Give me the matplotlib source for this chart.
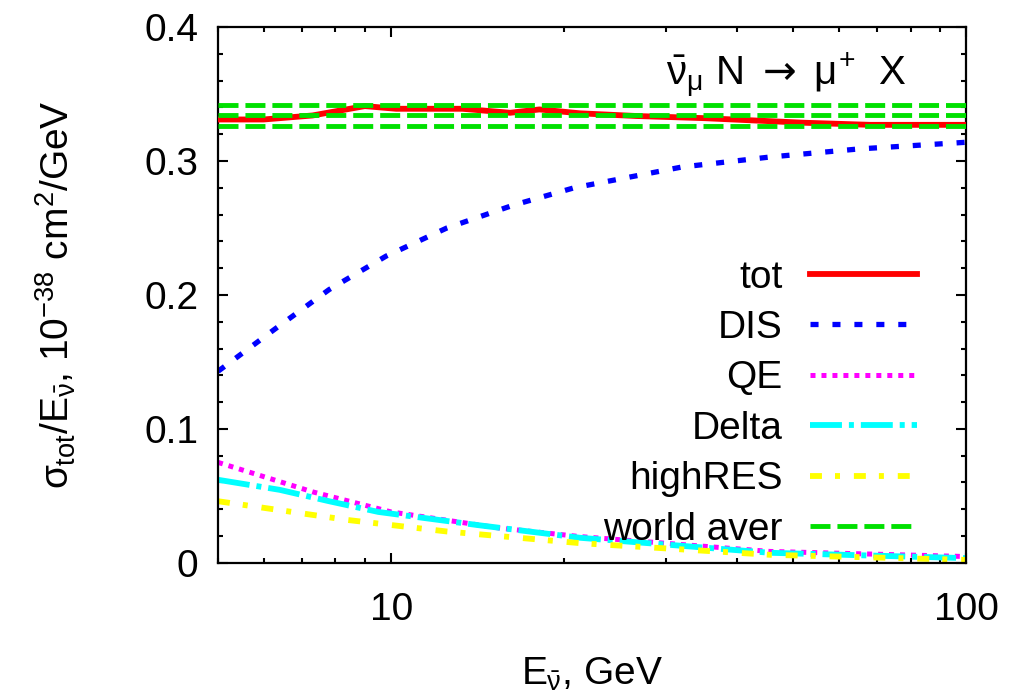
import matplotlib
matplotlib.use("Agg")
import matplotlib.pyplot as plt
from matplotlib.ticker import MultipleLocator, NullFormatter, FixedLocator

plt.rcParams['font.family'] = ['Liberation Sans', 'DejaVu Sans']
plt.rcParams['mathtext.fontset'] = 'custom'
plt.rcParams['mathtext.rm'] = 'Liberation Sans'
plt.rcParams['mathtext.it'] = 'Liberation Sans'
plt.rcParams['mathtext.bf'] = 'Liberation Sans:bold'
plt.rcParams['mathtext.sf'] = 'DejaVu Sans'
plt.rcParams['lines.scale_dashes'] = False

# values (E in GeV, sigma/E in 1e-38 cm^2/GeV)
tot_E = [5, 6, 7.3, 9, 10.2, 13.3, 16.1, 18.1, 21.3, 26.7, 35, 52, 68, 100]
tot_v = [0.331, 0.331, 0.334, 0.341, 0.339, 0.339, 0.336, 0.3385, 0.3356,
         0.3336, 0.332, 0.3286, 0.327, 0.327]

dis_E = [5, 6.3, 7.8, 9.8, 12.5, 16.3, 20.8, 32, 45.6, 65, 100]
dis_v = [0.143, 0.175, 0.204, 0.229, 0.250, 0.267, 0.280, 0.2955, 0.303, 0.309, 0.314]

qe_E = [5, 7.3, 10, 15.4, 21.3, 45.6, 100]
qe_v = [0.075, 0.053, 0.038, 0.026, 0.0196, 0.0085, 0.0047]

delta_E = [5, 6.4, 7.8, 9.5, 14.25, 21.3, 45.6, 100]
delta_v = [0.062, 0.0545, 0.046, 0.038, 0.028, 0.0187, 0.0075, 0.0035]

hres_E = [5, 8.4, 12.5, 21.3, 45.6, 100]
hres_v = [0.046, 0.032, 0.0234, 0.0147, 0.006, 0.0022]

world_aver = 0.334
world_err = 0.008
E_range = [5, 100]

FS = 28

fig = plt.figure(figsize=(10.14, 6.94), dpi=100)
ax = fig.add_axes([0.215, 0.189, 0.738, 0.772])

ax.plot(tot_E, tot_v, color='#ff0000', lw=4.2, label='tot', zorder=4)
ax.plot(dis_E, dis_v, color='#0000ff', lw=3.8, dashes=(5.8, 10), label='DIS')
ax.plot(qe_E, qe_v, color='#ff00ff', lw=3.6, dashes=(3.6, 4.3), label='QE')
ax.plot(delta_E, delta_v, color='#00ffff', lw=4.2, dashes=(23, 5, 3.6, 5), label='Delta')
ax.plot(hres_E, hres_v, color='#ffff00', lw=4.2, dashes=(8.6, 9.4, 3.6, 10), label='highRES')
ax.plot(E_range, [world_aver] * 2, color='#00e000', lw=3.5, dashes=(14.4, 5),
        label='world aver', zorder=5)
for s in (-1, 1):
    ax.plot(E_range, [world_aver + s * world_err] * 2, color='#00e000', lw=3.5,
            dashes=(14.4, 5), zorder=5)

ax.set_xscale('log')
ax.set_xlim(5, 100)
ax.set_ylim(0, 0.4)
ax.xaxis.set_major_locator(FixedLocator([10, 100]))
ax.set_xticklabels(['10', '100'])
ax.xaxis.set_minor_formatter(NullFormatter())
ax.set_yticks([0, 0.1, 0.2, 0.3, 0.4])
ax.set_yticklabels(['0', '0.1', '0.2', '0.3', '0.4'])
ax.yaxis.set_minor_locator(MultipleLocator(0.02))

ax.tick_params(which='both', direction='in', top=True, right=True, labelsize=FS, width=1.5)
ax.tick_params(which='major', length=7)
ax.tick_params(which='minor', length=3.6)
ax.tick_params(axis='x', pad=21)
ax.tick_params(axis='y', pad=14)
for sp in ax.spines.values():
    sp.set_linewidth(1.6)

ax.set_xlabel(r'$E_{\bar{\nu}}$, GeV', fontsize=FS, labelpad=20)
ax.set_ylabel(r'$\sigma_{\rm tot}/E_{\bar{\nu}}$, $10^{-38}$ cm$^2$/GeV', fontsize=FS, labelpad=48)

ax.text(0.92, 0.892, r'$\bar{\nu}_{\mu}\ $N$\ \mathsf{\rightarrow}\ \mu^{+}\ \ $X', transform=ax.transAxes,
        ha='right', va='baseline', fontsize=29)

ax.legend(loc='upper right', bbox_to_anchor=(0.934, 0.566), frameon=False, fontsize=FS,
          markerfirst=False, handlelength=2.75, handletextpad=0.7, labelspacing=0.37,
          borderpad=0, borderaxespad=0)

fig.savefig('out.png', dpi=100)
